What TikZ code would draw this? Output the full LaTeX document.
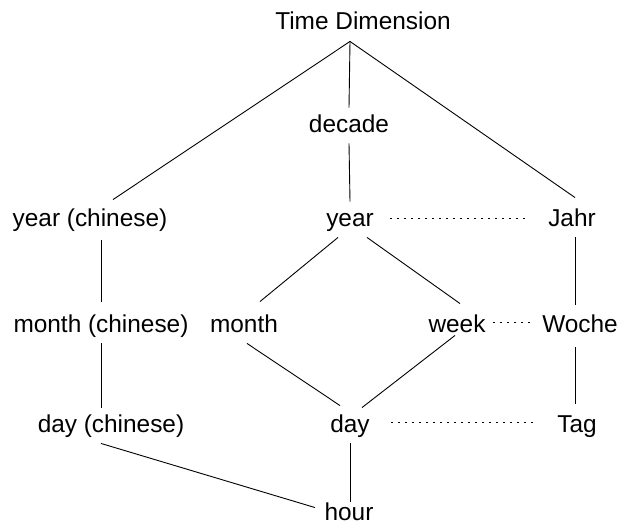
\documentclass[tikz,border=0pt]{standalone}
\usepackage{fontspec}
\setmainfont{Liberation Sans}
\begin{document}
\begin{tikzpicture}[x=1pt, y=-1pt, line width=0.9pt,
  lvl/.style={anchor=base, font=\fontsize{24.4}{29}\selectfont,
    text height=18pt, text depth=5pt, inner xsep=0pt, inner ysep=6pt},
  same/.style={line width=1.7pt, dash pattern=on 1.7pt off 5.3pt}]
  \useasboundingbox (0,0) rectangle (631,524);
  % levels, placed at their baselines
  \node[lvl] (td)   at (363,30)  {Time Dimension};
  \node[lvl] (dec)  at (349,132) {decade};
  \node[lvl] (yc)   at (90,226)  {year (chinese)};
  \node[lvl] (yr)   at (350,226) {year};
  \node[lvl] (jahr) at (572,226) {Jahr};
  \node[lvl] (mc)   at (101,332) {month (chinese)};
  \node[lvl] (mo)   at (244,332) {month};
  \node[lvl] (wk)   at (457,332) {week};
  \node[lvl] (wo)   at (580,332) {Woche};
  \node[lvl] (dc)   at (111,432) {day (chinese)};
  \node[lvl] (dy)   at (350,432) {day};
  \node[lvl] (tag)  at (577,432) {Tag};
  \node[lvl] (hr)   at (349,520) {hour};
  % roll-up edges
  \draw ([shift={(-13,0)}]td.south) -- ([shift={(23,-2)}]yc.north);
  \draw ([shift={(-13,0)}]td.south) -- (dec.north);
  \draw ([shift={(-13,0)}]td.south) -- ([shift={(3,-4)}]jahr.north);
  \draw (dec.south) -- (yr.north);
  \draw ([shift={(-12,0)}]yr.south) -- ([shift={(16,-6)}]mo.north);
  \draw ([shift={(17,0)}]yr.south) -- ([shift={(3,-4)}]wk.north);
  \draw ([shift={(3,0)}]jahr.south) -- ([shift={(-5,-3)}]wo.north);
  \draw ([shift={(11,3)}]yc.south) -- ([shift={(0,-6)}]mc.north);
  \draw ([shift={(3,0)}]mo.south) -- ([shift={(-10,-2)}]dy.north);
  \draw ([shift={(-2,-8)}]wk.south) -- ([shift={(12,0)}]dy.north);
  \draw ([shift={(-5,4)}]wo.south) -- ([shift={(-2,-4)}]tag.north);
  \draw (mc.south) -- ([shift={(-10,0)}]dc.north);
  \draw ([shift={(-10,0)}]dc.south) -- ([shift={(-34,12)}]hr.north);
  \draw (dy.south) -- ([shift={(1,6)}]hr.north);
  % equivalent levels
  \draw[same, shorten <=16pt, shorten >=18pt] ([shift={(0,-1)}]yr.east) -- ([shift={(0,-1)}]jahr.west);
  \draw[same, shorten <=7pt, shorten >=10pt] ([shift={(0,-3)}]wk.east) -- ([shift={(0,-3)}]wo.west);
  \draw[same, shorten <=21pt, shorten >=22pt] ([shift={(0,-3)}]dy.east) -- ([shift={(0,-3)}]tag.west);
\end{tikzpicture}
\end{document}
